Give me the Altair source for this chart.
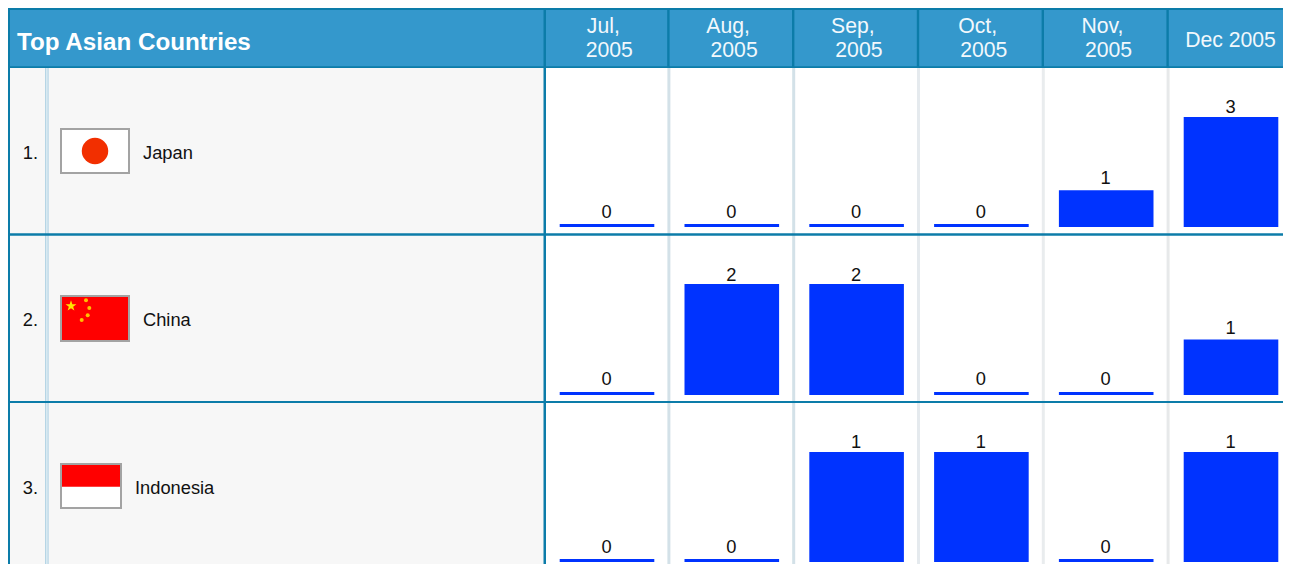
import altair as alt
import pandas as pd

# ---------- data ----------
months = ["Jul", "Aug", "Sep", "Oct", "Nov", "Dec"]
header_line1 = ["Jul,", "Aug,", "Sep,", "Oct,", "Nov,"]
header_line2 = ["2005", "2005", "2005", "2005", "2005"]
header_single = "Dec 2005"
table_title = "Top Asian Countries"
countries = ["Japan", "China", "Indonesia"]
ranks = ["1.", "2.", "3."]
japan = [0, 0, 0, 0, 1, 3]
china = [0, 2, 2, 0, 0, 1]
indonesia = [0, 0, 1, 1, 0, 1]
series = [japan, china, indonesia]

# ---------- style ----------
FONT = "Liberation Sans"
DARK = "#0c7ca9"
HEAD = "#3498cc"
NAMEBG = "#f7f7f7"
BLUE = "#0033ff"
SEP_COLORS = ["#d3e1e8", "#d3e1e8", "#e5eaee", "#e9ecee", "#e7e9ea"]
LEFT_W, RIGHT_W = 538, 737
HEADER_H = 60
ROW_H = [168, 167, 161]
ROW_LINE = [166.5, 166.3, None]
BAR_TOP = [49, 48, 49]
BASE = 159
STEP = 124.8
TEXT_Y = [90.5, 89.5, 90.5]
TOP_DY = [-4, -3, -4]
LOW_DY = -6
ZERO_DY = [-9, -10, -9]
ONE = alt.InlineData(values=[{"k": 1}])

band = alt.Scale(type="band", domain=months, range=[-1.4, 747.4],
                 paddingInner=0.242, paddingOuter=0.121)
X = alt.X("month:N", scale=band, axis=None)


def box(x, x2, y, y2, color):
    return alt.Chart(ONE).mark_rect(color=color).encode(
        x=alt.value(x), x2=alt.value(x2), y=alt.value(y), y2=alt.value(y2))


def label(text, x, y, size=18.3, align="left", color="#111111", weight="normal"):
    return alt.Chart(ONE).mark_text(
        text=text, font=FONT, fontSize=size, align=align, baseline="alphabetic",
        color=color, fontWeight=weight).encode(x=alt.value(x), y=alt.value(y))


def dot(x, y, size, color, shape="circle"):
    return alt.Chart(ONE).mark_point(
        filled=True, size=size, color=color, opacity=1, shape=shape).encode(
        x=alt.value(x), y=alt.value(y))


STAR = "M0,-1L0.235,-0.324L0.951,-0.309L0.38,0.124L0.588,0.809L0,0.4L-0.588,0.809L-0.38,0.124L-0.951,-0.309L-0.235,-0.324Z"


def flag(i):
    if i == 0:
        return [box(52, 122, 60, 106, "#a3a3a3"), box(54, 120, 62, 104, "#ffffff"),
                dot(87, 83, 700, "#f22f00")]
    if i == 1:
        return [box(52, 122, 59, 106, "#a3a3a3"), box(54, 120, 61, 104, "#ff0000"),
                dot(63, 70, 130, "#ffe600", STAR),
                dot(78, 64.3, 16, "#ffc000"), dot(81.3, 72, 16, "#ffc000"),
                dot(79.7, 79.3, 16, "#ffc000"), dot(73.7, 84, 16, "#ffc000")]
    return [box(52, 114, 60, 106, "#a3a3a3"), box(54, 112, 62, 104, "#ffffff"),
            box(54, 112, 62, 83.7, "#ff0000")]


def seps(h, colors):
    return [box(122 + k * STEP - 0.6, 122 + k * STEP + 2.4, 0, h, colors[k]) for k in range(5)]


# ---------- header ----------
left_head = alt.layer(
    box(0, LEFT_W, 0, HEADER_H, HEAD),
    box(0, LEFT_W, 0, 2, DARK),
    box(0, LEFT_W, 58.2, 60.6, DARK),
    box(0, 2, 0, HEADER_H, DARK),
    box(535.5, 538, 0, HEADER_H, DARK),
    label(table_title, 9, 42.3, size=24.2, color="#ffffff", weight="bold"),
).properties(width=LEFT_W, height=HEADER_H)

head_df = pd.DataFrame({"month": months[:5], "line1": header_line1, "line2": header_line2})
single_df = pd.DataFrame({"month": months[5:], "line": [header_single]})
HEAD_TEXT = dict(font=FONT, fontSize=21.2, color="#f2f8fc", baseline="alphabetic")
right_head = alt.layer(
    box(0, RIGHT_W, 0, HEADER_H, HEAD),
    box(0, RIGHT_W, 0, 2, DARK),
    box(0, RIGHT_W, 58.2, 60.6, DARK),
    *[box(121.8 + k * STEP - 0.6, 121.8 + k * STEP + 1.8, 0, HEADER_H, DARK) for k in range(5)],
    alt.Chart(head_df).mark_text(dx=-3.7, **HEAD_TEXT).encode(x=X, y=alt.value(25.3), text="line1:N"),
    alt.Chart(head_df).mark_text(dx=2.3, **HEAD_TEXT).encode(x=X, y=alt.value(49.3), text="line2:N"),
    alt.Chart(single_df).mark_text(dx=-0.5, **HEAD_TEXT).encode(x=X, y=alt.value(38.7), text="line:N"),
).properties(width=RIGHT_W, height=HEADER_H)


# ---------- rows ----------
def row(i):
    h = ROW_H[i]
    df = pd.DataFrame({"month": months, "value": series[i]})
    top = max(series[i])
    Y = alt.Y("value:Q", scale=alt.Scale(domain=[0, top], range=[BASE, BAR_TOP[i]], nice=False), axis=None)

    left = [box(0, LEFT_W, 0, h, NAMEBG),
            box(37, 40.7, 0, h, "#b6d5e5"), box(38.1, 39.6, 0, h, "#dcebf2")]
    left += flag(i)
    name_x = 127 if i == 2 else 135
    left += [label(ranks[i], 30, TEXT_Y[i], align="right"), label(countries[i], name_x, TEXT_Y[i])]
    left += [box(0, 2, 0, h, DARK), box(535.5, 538, 0, h, DARK)]

    right = [box(0, RIGHT_W, 0, h, "#ffffff")]
    right += seps(h, SEP_COLORS)
    base = alt.Chart(df)
    VAL_TEXT = dict(font=FONT, fontSize=18.3, color="#111111", baseline="alphabetic", dx=-0.5)
    right += [
        base.transform_filter("datum.value > 0").mark_bar(color=BLUE).encode(x=X, y=Y),
        base.transform_filter("datum.value == 0").mark_tick(
            color=BLUE, size=94.6, thickness=3, opacity=1, yOffset=-1.5).encode(x=X, y=Y),
        base.transform_filter(f"datum.value == {top}").mark_text(dy=TOP_DY[i], **VAL_TEXT).encode(
            x=X, y=Y, text="value:Q"),
        base.transform_filter(f"datum.value > 0 && datum.value < {top}").mark_text(dy=LOW_DY, **VAL_TEXT).encode(
            x=X, y=Y, text="value:Q"),
        base.transform_filter("datum.value == 0").mark_text(dy=ZERO_DY[i], **VAL_TEXT).encode(
            x=X, y=Y, text="value:Q"),
    ]
    if ROW_LINE[i] is not None:
        y = ROW_LINE[i]
        left.append(box(0, LEFT_W, y - 1.2, y + 1.2, DARK))
        right.append(box(0, RIGHT_W, y - 1.2, y + 1.2, DARK))
    lc = alt.layer(*left).properties(width=LEFT_W, height=h)
    rc = alt.layer(*right).properties(width=RIGHT_W, height=h)
    return [lc, rc]


panels = [left_head, right_head] + row(0) + row(1) + row(2)
chart = alt.concat(*panels, columns=2, spacing=0, bounds="flush").properties(
    padding=0, background="#ffffff").configure_view(stroke=None)

chart.save("out.html", embed_options={"renderer": "svg", "actions": False})
